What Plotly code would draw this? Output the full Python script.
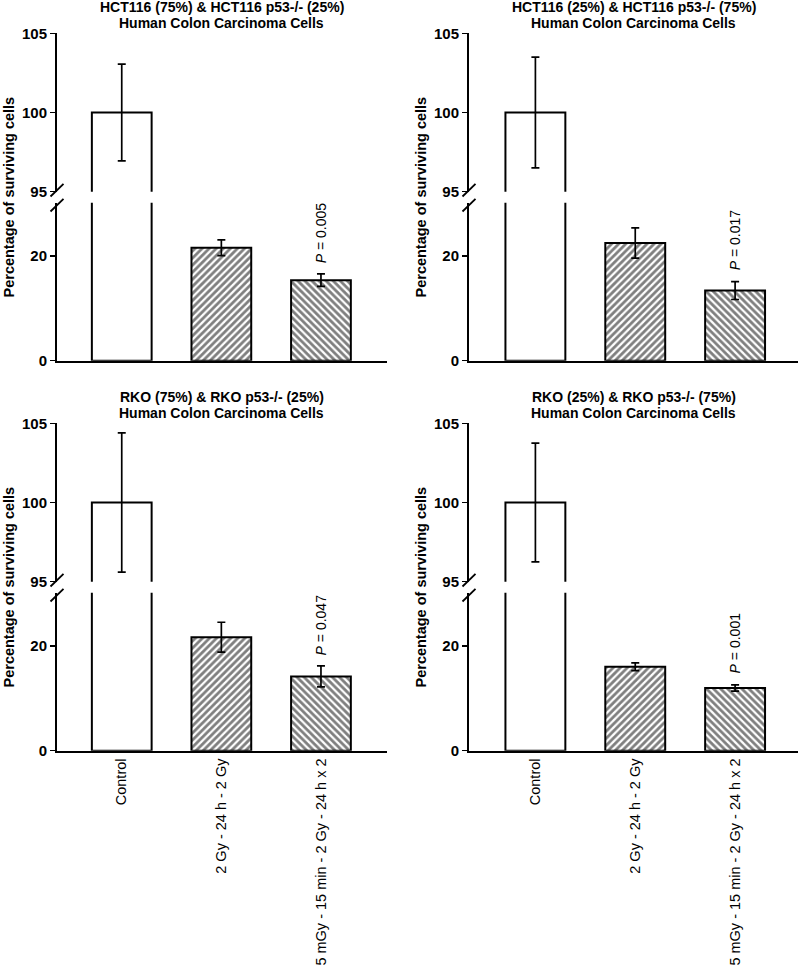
import plotly.graph_objects as go

# ---------------- data ----------------
categories = ["Control", "2 Gy - 24 h - 2 Gy", "5 mGy - 15 min - 2 Gy - 24 h x 2"]

titles_line1 = [
    "HCT116 (75%) & HCT116 p53-/- (25%)",
    "HCT116 (25%) & HCT116 p53-/- (75%)",
    "RKO (75%) & RKO p53-/- (25%)",
    "RKO (25%) & RKO p53-/- (75%)",
]
title_line2 = "Human Colon Carcinoma Cells"

means_hct_75 = [100.0, 21.6, 15.4]
errs_hct_75 = [3.05, 1.5, 1.2]
means_hct_25 = [100.0, 22.5, 13.4]
errs_hct_25 = [3.5, 2.9, 1.7]
means_rko_75 = [100.0, 21.7, 14.2]
errs_rko_75 = [4.4, 2.85, 2.0]
means_rko_25 = [100.0, 16.05, 12.0]
errs_rko_25 = [3.75, 0.75, 0.6]

p_values = ["0.005", "0.017", "0.047", "0.001"]

upper_ticks = [95, 100, 105]
lower_ticks = [0, 20]
y_title = "Percentage of surviving cells"

panels_means = [means_hct_75, means_hct_25, means_rko_75, means_rko_25]
panels_errs = [errs_hct_75, errs_hct_25, errs_rko_75, errs_rko_25]

# ---------------- layout geometry (pixels) ----------------
W, H = 800, 971
FONT = "Liberation Sans, Arial, sans-serif"


def panel_geom(dx, dy):
    left = dx == 0
    return dict(
        x0=(57 if left else 469), x1=(386.7 if left else 798),
        xr=([-0.65, 2.66] if left else [-0.665, 2.63]),
        ut=33.3 + dy, ub=191.7 + dy, lt=202.7 + dy, lb=360.7 + dy, lmax=30.2,
        ytx=(8.5 if left else 420.5), ytc=197 + dy, t1=7 + dy, t2=23 + dy,
    )


geom = [panel_geom(0, 0), panel_geom(1, 0), panel_geom(0, 390), panel_geom(1, 390)]


def px(x):
    return x / W


def py(y):
    return 1 - y / H


fig = go.Figure()
layout = dict(
    width=W, height=H,
    margin=dict(l=0, r=0, t=0, b=0),
    paper_bgcolor="white", plot_bgcolor="rgba(0,0,0,0)",
    showlegend=False,
    font=dict(family=FONT, size=14, color="black"),
)
annotations = []
shapes = []

patterns = ["", "/", "\\"]

for i, (g, means, errs) in enumerate(zip(geom, panels_means, panels_errs)):
    xn = i + 1
    ylo = 2 * i + 1
    yup = 2 * i + 2
    xname = "x" if xn == 1 else f"x{xn}"
    ylo_name = "y" if ylo == 1 else f"y{ylo}"
    yup_name = f"y{yup}"

    for yname in (ylo_name, yup_name):
        fig.add_trace(go.Bar(
            x=categories, y=means,
            xaxis=xname, yaxis=yname,
            width=0.6,
            marker=dict(
                color="white",
                line=dict(color="black", width=2),
                pattern=dict(shape=patterns, fgcolor="black", bgcolor="white",
                             size=5, solidity=0.55, fillmode="overlay"),
            ),
            error_y=dict(type="data", array=errs, visible=True,
                         color="black", thickness=1.7, width=4),
            cliponaxis=True,
            hoverinfo="skip",
        ))

    bottom = i >= 2
    layout[f"xaxis{'' if xn == 1 else xn}"] = dict(
        domain=[px(g["x0"]), px(g["x1"])],
        anchor=ylo_name,
        type="category",
        range=g["xr"],
        showline=True, linecolor="black", linewidth=2,
        ticks="", showgrid=False, zeroline=False,
        showticklabels=bottom, tickangle=-90,
        tickfont=dict(family=FONT, size=14.5, color="black"),
        automargin=False, fixedrange=True,
    )
    common_y = dict(
        anchor=xname,
        showline=True, linecolor="black", linewidth=2,
        ticks="outside", ticklen=5, tickwidth=1.5, tickcolor="black",
        showgrid=False, zeroline=False,
        tickfont=dict(family=FONT, size=15, color="black", weight="bold"),
        automargin=False, fixedrange=True,
    )
    layout[f"yaxis{'' if ylo == 1 else ylo}"] = dict(
        common_y, domain=[py(g["lb"]), py(g["lt"])],
        range=[0, g["lmax"]], tickvals=lower_ticks,
    )
    layout[f"yaxis{yup}"] = dict(
        common_y, domain=[py(g["ub"]), py(g["ut"])],
        range=[95, 105], tickvals=upper_ticks,
    )

    # titles
    cx = px((g["x0"] + g["x1"]) / 2)
    for txt, yy in ((titles_line1[i], g["t1"]), (title_line2, g["t2"])):
        annotations.append(dict(
            x=cx, y=py(yy), xref="paper", yref="paper",
            text=f"<b>{txt}</b>", showarrow=False,
            xanchor="center", yanchor="middle",
            font=dict(family=FONT, size=14, color="black"),
        ))
    # y title
    annotations.append(dict(
        x=px(g["ytx"]), y=py(g["ytc"]), xref="paper", yref="paper",
        text=f"<b>{y_title}</b>", showarrow=False, textangle=-90,
        xanchor="center", yanchor="middle",
        font=dict(family=FONT, size=14.5, color="black"),
    ))
    # p value above third bar
    annotations.append(dict(
        x=categories[2], y=means[2] + errs[2],
        xref=xname, yref=ylo_name,
        text=f"<i>P</i> = {p_values[i]}", showarrow=False, textangle=-90,
        xanchor="center", yanchor="bottom", yshift=9,
        font=dict(family=FONT, size=14, color="black"),
    ))
    # axis break slashes
    ax = g["x0"]
    for yc in (g["ub"] - 1.5, g["lt"] + 2.5):
        shapes.append(dict(
            type="line", xref="paper", yref="paper",
            x0=px(ax - 6.5), y0=py(yc + 6.3), x1=px(ax + 6.5), y1=py(yc - 6.3),
            line=dict(color="black", width=1.8),
        ))

layout["annotations"] = annotations
layout["shapes"] = shapes
fig.update_layout(**layout)
fig.write_html(
    "out.html",
    config={"displayModeBar": False, "staticPlot": True},
    post_script="document.body.style.margin='0';document.body.style.overflow='hidden';",
)
